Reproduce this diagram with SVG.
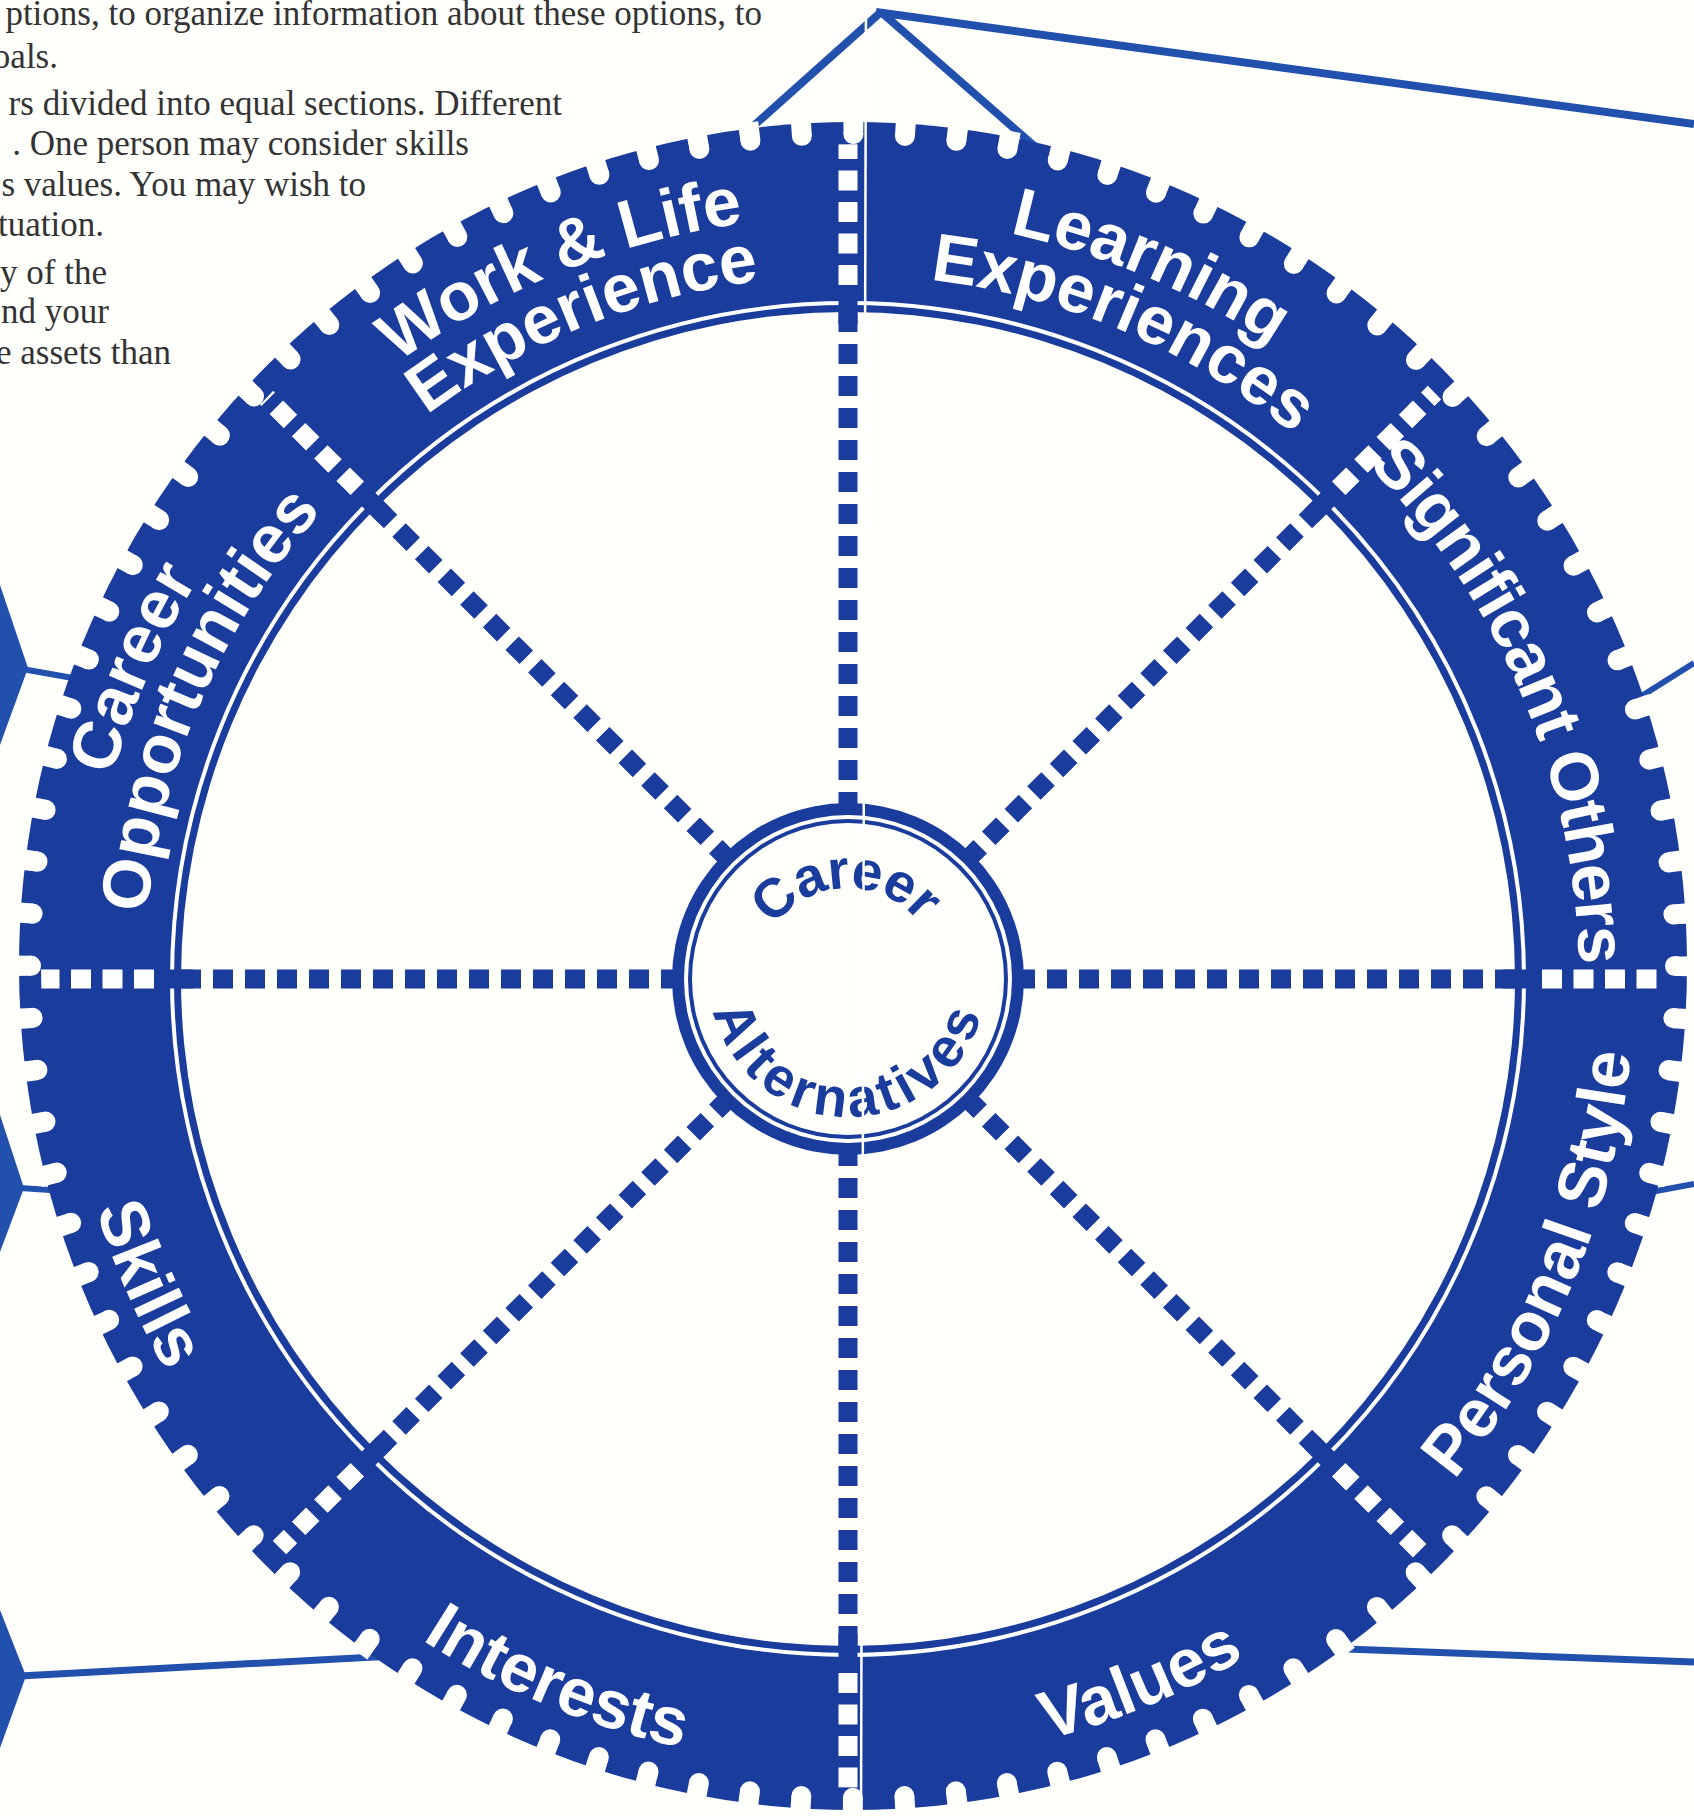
<svg xmlns="http://www.w3.org/2000/svg" width="1694" height="1816" viewBox="0 0 1694 1816">
<style>
.bl{fill:#1a3c9c}
.fr{stroke:#2150ad;fill:none}
.para{font-family:"Liberation Serif","Times New Roman",serif;font-size:35px;fill:#333;text-anchor:end}
.lbl{font-family:"Liberation Sans",Arial,sans-serif;font-weight:bold;font-size:68px;fill:#fff}
.hubt{font-family:"Liberation Sans",Arial,sans-serif;font-weight:bold;font-size:55px;fill:#1a3c9c}
.sp{stroke:#1a3c9c;stroke-width:19;stroke-dasharray:20 12;fill:none}
.spw{stroke:#fff;stroke-width:19;stroke-dasharray:20 11.5;fill:none}
.sps{stroke:#1a3c9c;stroke-width:19}
</style>
<defs>
<clipPath id="baseClip"><ellipse cx="853" cy="966" rx="812" ry="821.7"/></clipPath>
<path id="tOut" d="M96.6,846.5 A763,763 0 0 1 1599.4,846.5"/>
<path id="tIn" d="M154.7,856.8 A704,704 0 0 1 1541.3,856.8"/>
<path id="tMid" d="M128.1,852.1 A731,731 0 0 1 1567.9,852.1"/>
<path id="tBot" d="M73.9,1115.5 A786,786 0 0 0 1622.1,1115.5"/>
<path id="hTop" d="M758.4,963.2 A91,91 0 0 1 937.6,963.2"/>
<path id="hBot" d="M712.1,1003 A138,138 0 0 0 983.9,1003"/>
</defs>
<rect width="1694" height="1816" fill="#fffffb"/>

<g id="paragraph" class="para">
<text x="762" y="25">ptions, to organize information about these options, to</text>
<text x="58" y="68">oals.</text>
<text x="562" y="115">rs divided into equal sections. Different</text>
<text x="469" y="155">. One person may consider skills</text>
<text x="366" y="196">s values. You may wish to</text>
<text x="104" y="236">tuation.</text>
<text x="107" y="284">y of the</text>
<text x="109" y="323">nd your</text>
<text x="171" y="364">e assets than</text>
</g>

<g id="connectors">
<g class="fr">
<line x1="881" y1="12" x2="722" y2="154" stroke-width="8"/>
<line x1="881" y1="12" x2="1064" y2="172" stroke-width="8"/>
<line x1="876" y1="12" x2="1694" y2="124" stroke-width="8"/>
<line x1="1640" y1="697" x2="1694" y2="663" stroke-width="6"/>
<line x1="1640" y1="1194" x2="1694" y2="1184" stroke-width="6"/>
<line x1="1320" y1="1648" x2="1694" y2="1662" stroke-width="7"/>
<line x1="22" y1="669" x2="90" y2="681" stroke-width="6"/>
<line x1="20" y1="1188" x2="80" y2="1192" stroke-width="6"/>
<line x1="20" y1="1676" x2="412" y2="1655" stroke-width="7"/>
</g>
<g fill="#2150ad">
<polygon points="0,585 28,668 0,745"/>
<polygon points="0,1115 24,1188 0,1252"/>
<polygon points="0,1610 26,1676 0,1748"/>
</g>
</g>

<g id="wheel">
<g transform="translate(853,966) scale(1,1.012)">
<circle r="834" class="bl"/>
<circle r="831" fill="none" stroke="#fffffb" stroke-width="18" stroke-dasharray="20 32.2133" stroke-dashoffset="10"/>
<circle r="822" fill="none" stroke="#fffffb" stroke-width="20" stroke-dasharray="0 51.6478" stroke-linecap="round"/>
</g>
<circle cx="848" cy="979" r="667" fill="#fffffb"/>
<circle cx="848" cy="979" r="676" fill="none" stroke="#fff" stroke-width="4"/>
</g>

<g id="spokes">
<g class="sp">
<line x1="848" y1="312" x2="848" y2="809"/>
<line x1="848" y1="1646" x2="848" y2="1149"/>
<line x1="181" y1="979" x2="678" y2="979"/>
<line x1="1515" y1="979" x2="1018" y2="979"/>
<line x1="1319.6" y1="507.4" x2="968.2" y2="858.8"/>
<line x1="376.4" y1="507.4" x2="727.8" y2="858.8"/>
<line x1="1319.6" y1="1450.6" x2="968.2" y2="1099.2"/>
<line x1="376.4" y1="1450.6" x2="727.8" y2="1099.2"/>
</g>
<g class="sps">
<line x1="848" y1="324" x2="848" y2="287"/>
<line x1="848" y1="1634" x2="848" y2="1671"/>
<line x1="193" y1="979" x2="156" y2="979"/>
<line x1="1503" y1="979" x2="1540" y2="979"/>
<line x1="1311.2" y1="515.8" x2="1337.3" y2="489.7"/>
<line x1="384.8" y1="515.8" x2="358.7" y2="489.7"/>
<line x1="1311.2" y1="1442.2" x2="1337.3" y2="1468.3"/>
<line x1="384.8" y1="1442.2" x2="358.7" y2="1468.3"/>
</g>
<g class="spw" clip-path="url(#baseClip)">
<line x1="848" y1="285" x2="848" y2="120"/>
<line x1="848" y1="1673" x2="848" y2="1840"/>
<line x1="154" y1="979" x2="-10" y2="979"/>
<line x1="1542" y1="979" x2="1710" y2="979"/>
<line x1="1338.7" y1="488.3" x2="1455" y2="372"/>
<line x1="357.3" y1="488.3" x2="241" y2="372"/>
<line x1="1338.7" y1="1469.7" x2="1455" y2="1586"/>
<line x1="357.3" y1="1469.7" x2="241" y2="1586"/>
</g>
</g>

<g id="hub">
<circle cx="848" cy="979" r="176" class="bl"/>
<circle cx="848" cy="979" r="164" fill="#fffffb"/>
<circle cx="848" cy="979" r="160" class="bl"/>
<circle cx="848" cy="979" r="156" fill="#fffffb"/>
<text class="hubt" text-anchor="middle" style="letter-spacing:-1px" transform="rotate(-2 848 979)"><textPath href="#hTop" startOffset="50%">Career</textPath></text>
<text class="hubt" text-anchor="middle" style="letter-spacing:4.5px"><textPath href="#hBot" startOffset="50%">Alternatives</textPath></text>
</g>

<g id="work-life" transform="rotate(-22 848 979)">
<text class="lbl" text-anchor="middle"><textPath href="#tOut" startOffset="50%">Work &amp; Life</textPath></text>
<text class="lbl" text-anchor="middle"><textPath href="#tIn" startOffset="50%">Experience</textPath></text>
</g>
<g id="learning" transform="rotate(23 848 979)">
<text class="lbl" text-anchor="middle"><textPath href="#tOut" startOffset="50%">Learning</textPath></text>
<text class="lbl" text-anchor="middle"><textPath href="#tIn" startOffset="50%">Experiences</textPath></text>
</g>
<g id="significant-others" transform="rotate(67 848 979)">
<text class="lbl" text-anchor="middle" style="letter-spacing:-1.7px"><textPath href="#tMid" startOffset="50%">Significant Others</textPath></text>
</g>
<g id="personal-style" transform="rotate(-67.5 848 979)">
<text class="lbl" text-anchor="middle"><textPath href="#tBot" startOffset="50%">Personal Style</textPath></text>
</g>
<g id="values" transform="rotate(-22.5 848 979)">
<text class="lbl" text-anchor="middle"><textPath href="#tBot" startOffset="50%">Values</textPath></text>
</g>
<g id="interests" transform="rotate(22.5 848 979)">
<text class="lbl" text-anchor="middle"><textPath href="#tBot" startOffset="50%">Interests</textPath></text>
</g>
<g id="skills" transform="rotate(66.5 848 979)">
<text class="lbl" text-anchor="middle"><textPath href="#tBot" startOffset="50%">Skills</textPath></text>
</g>
<g id="career-opportunities" transform="rotate(-66.5 848 979)">
<text class="lbl" text-anchor="middle"><textPath href="#tOut" startOffset="50%">Career</textPath></text>
<text class="lbl" text-anchor="middle"><textPath href="#tIn" startOffset="50%">Opportunities</textPath></text>
</g>

<line id="fold" x1="866" y1="0" x2="861" y2="1816" stroke="#fff" stroke-width="2.5"/>
</svg>
